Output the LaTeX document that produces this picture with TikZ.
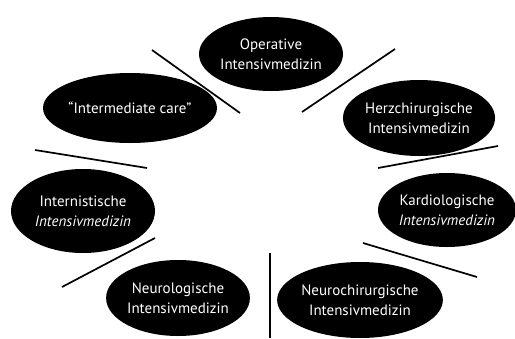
\documentclass[tikz,border=0pt]{standalone}
\usepackage{fontspec}
\setmainfont{PT Sans}
\usetikzlibrary{shapes.geometric}
\begin{document}
\begin{tikzpicture}[x=1pt,y=-1pt,
  unit/.style={ellipse,fill=black,text=white,inner sep=0pt,align=center,
    font=\fontsize{15}{20}\selectfont},
  stroke/.style={line width=1.7pt,draw=black}]
\useasboundingbox (0,0) rectangle (515,338);
\node[unit,minimum width=144pt,minimum height=74pt] (op) at (271,54) {Operative\\Intensivmedizin};
\node[unit,minimum width=140pt,minimum height=70pt] (ic) at (130,108) {“Intermediate care”};
\node[unit,minimum width=152pt,minimum height=76pt] (hz) at (419,118) {Herzchirurgische\\Intensivmedizin};
\node[unit,minimum width=144pt,minimum height=84pt] (in) at (83,211) {Internistische\\\itshape Intensivmedizin};
\node[unit,minimum width=138pt,minimum height=74pt] (ka) at (447,210) {Kardiologische\\\itshape Intensivmedizin};
\node[unit,minimum width=136pt,minimum height=76pt] (ne) at (178,298) {Neurologische\\Intensivmedizin};
\node[unit,minimum width=138pt,minimum height=76pt] (nc) at (360,300) {Neurochirurgische\\Intensivmedizin};
\coordinate (a1) at (152,50);  \coordinate (a2) at (240,113);
\coordinate (b1) at (395,49);  \coordinate (b2) at (302,112);
\coordinate (c1) at (35,150);  \coordinate (c2) at (147,168);
\coordinate (d1) at (498,146); \coordinate (d2) at (378,168);
\coordinate (e1) at (155,238); \coordinate (e2) at (62,287);
\coordinate (f1) at (363,243); \coordinate (f2) at (477,277);
\coordinate (g1) at (270,253); \coordinate (g2) at (270,338);
\draw[stroke] (a1) -- (a2);
\draw[stroke] (b1) -- (b2);
\draw[stroke] (c1) -- (c2);
\draw[stroke] (d1) -- (d2);
\draw[stroke] (e1) -- (e2);
\draw[stroke] (f1) -- (f2);
\draw[stroke] (g1) -- (g2);
\end{tikzpicture}
\end{document}
